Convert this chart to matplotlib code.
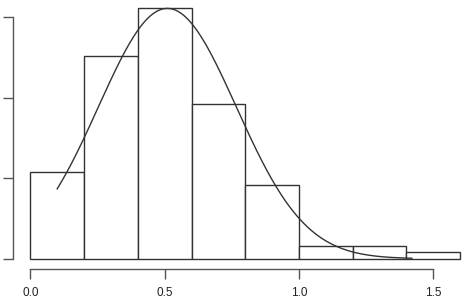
import numpy as np
import matplotlib
matplotlib.use("Agg")
import matplotlib.pyplot as plt

# Histogram data (density scale)
bin_edges = [0.0, 0.2, 0.4, 0.6, 0.8, 1.0, 1.2, 1.4, 1.6]
densities = [0.54, 1.26, 1.555, 0.96, 0.46, 0.08, 0.08, 0.04]

# Overlaid normal density curve (estimated parameters and drawn range)
curve_mean = 0.51
curve_sd = 0.2566
curve_from = 0.10
curve_to = 1.42

x_ticks = [0.0, 0.5, 1.0, 1.5]
x_tick_labels = ["0.0", "0.5", "1.0", "1.5"]
y_ticks = [0.0, 0.5, 1.0, 1.5]
y_tick_labels = ["0.0", "0.5", "1.0", "1.5"]

plt.rcParams['font.family'] = ['Liberation Sans', 'DejaVu Sans']

W, H = 467, 307
fig = plt.figure(figsize=(W / 100, H / 100), dpi=100)

# axes rectangle in pixels: left spine at x=13, bottom spine at y=269.3 (from top)
left_px, bottom_px_top = 13.0, 269.3
ax = fig.add_axes([left_px / W, (H - bottom_px_top) / H, (W - left_px) / W, bottom_px_top / H])

# data -> pixel mapping: x 0 at 30.3 px, 268.7 px per unit; y 0 at 258.7 px, 161 px per unit
x0_px, xs = 30.3, 268.7
y0_px, ys = 258.7, 161.0
ax.set_xlim((left_px - x0_px) / xs, (W - x0_px) / xs)
ax.set_ylim((y0_px - bottom_px_top) / ys, y0_px / ys)

col = "#333333"
lefts = bin_edges[:-1]
widths = np.diff(bin_edges)
ax.bar(lefts, densities, width=widths, align='edge', facecolor='white',
       edgecolor=col, linewidth=1.0)

xc = np.linspace(curve_from, curve_to, 300)
yc = np.exp(-0.5 * ((xc - curve_mean) / curve_sd) ** 2) / (curve_sd * np.sqrt(2 * np.pi))
ax.plot(xc, yc, color=col, linewidth=1.0)

for s in ['top', 'right']:
    ax.spines[s].set_visible(False)
ax.spines['left'].set_bounds(0, 1.5)
ax.spines['bottom'].set_bounds(0, 1.5)
for s in ['left', 'bottom']:
    ax.spines[s].set_color("#555555")
    ax.spines[s].set_linewidth(1.0)

ax.set_xticks(x_ticks)
ax.set_xticklabels(x_tick_labels)
ax.set_yticks(y_ticks)
ax.set_yticklabels(y_tick_labels, rotation=90, va='center')
ax.tick_params(axis='both', length=7, width=1.0, color="#555555", labelsize=8.5,
               labelcolor="#222222")
ax.tick_params(axis='x', pad=6)
ax.tick_params(axis='y', pad=9)

fig.savefig("out.png", dpi=100)
